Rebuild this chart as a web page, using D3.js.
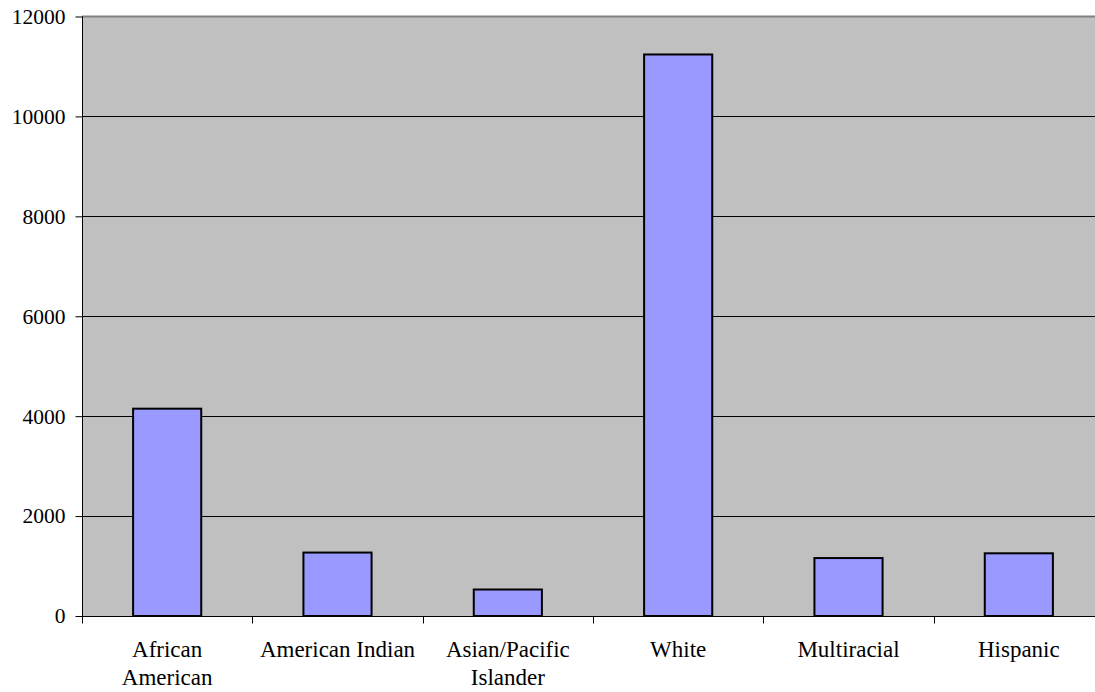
<!DOCTYPE html>
<html><head><meta charset="utf-8">
<script src="https://cdn.jsdelivr.net/npm/d3@7"></script>
<style>body{margin:0;background:#fff;}svg{display:block;}
svg text{font-family:"Liberation Serif","Times New Roman",Tinos,"DejaVu Serif",serif;fill:#000;}
.ylab text{font-size:21.5px;}
.xlab text{font-size:23px;}</style>
</head><body>
<script>
const categories = [["African","American"],["American Indian"],["Asian/Pacific","Islander"],["White"],["Multiracial"],["Hispanic"]];
const values = [4150, 1270, 530, 11240, 1160, 1255];
const yTicks = [0, 2000, 4000, 6000, 8000, 10000, 12000];

(function () {
const W = 1095, H = 692;
const pLeft = 82, pRight = 1104, pTop = 16.5, pBottom = 616;
const svg = d3.select("body").append("svg").attr("width", W).attr("height", H);

const x = d3.scaleBand().domain(d3.range(categories.length)).range([pLeft, pRight]).paddingInner(0).paddingOuter(0);
const y = d3.scaleLinear().domain([0, 12000]).range([pBottom, pTop]);

svg.append("rect").attr("x", pLeft).attr("y", pTop).attr("width", pRight - pLeft).attr("height", pBottom - pTop).attr("fill", "#c0c0c0");

// gridlines
svg.append("g").selectAll("line").data(yTicks.filter(d => d > 0 && d < 12000)).join("line")
  .attr("x1", pLeft).attr("x2", pRight)
  .attr("y1", d => Math.round(y(d)) + 0.5).attr("y2", d => Math.round(y(d)) + 0.5)
  .attr("stroke", "#000").attr("stroke-width", 1);
svg.append("line").attr("x1", pLeft).attr("x2", pRight).attr("y1", pTop).attr("y2", pTop)
  .attr("stroke", "#808080").attr("stroke-width", 2);

// bars
const bw = x.bandwidth() * 0.4;
svg.append("g").selectAll("rect").data(values).join("rect")
  .attr("x", (d, i) => x(i) + (x.bandwidth() - bw) / 2)
  .attr("y", d => y(d))
  .attr("width", bw)
  .attr("height", d => pBottom - y(d))
  .attr("fill", "#9999ff").attr("stroke", "#000").attr("stroke-width", 2);

// y axis
const yAxis = d3.axisLeft(y).tickValues(yTicks).tickSize(7).tickPadding(10).tickFormat(d3.format("d"));
const gy = svg.append("g").attr("class", "ylab").attr("transform", `translate(${pLeft + 0.5},0)`).call(yAxis);
gy.attr("font-family", null).attr("font-size", null);
gy.select(".domain").attr("stroke", "#000").attr("d", `M0,${pTop}V${pBottom}`);
gy.selectAll(".tick line").attr("stroke", "#000");

// x axis
const gx = svg.append("g").attr("class", "xlab").attr("transform", `translate(0,${pBottom + 0.5})`);
gx.append("line").attr("x1", pLeft).attr("x2", pRight).attr("stroke", "#000");
const bounds = d3.range(categories.length + 1).map(i => pLeft + i * x.bandwidth());
gx.selectAll("line.tk").data(bounds).join("line").attr("class", "tk")
  .attr("x1", d => Math.round(d) + 0.5).attr("x2", d => Math.round(d) + 0.5)
  .attr("y1", 0).attr("y2", 7).attr("stroke", "#000");
const lbl = gx.selectAll("text").data(categories).join("text")
  .attr("text-anchor", "middle");
lbl.each(function (d, i) {
  const cx = x(i) + x.bandwidth() / 2;
  d3.select(this).selectAll("tspan").data(d).join("tspan")
    .attr("x", cx)
    .attr("y", (t, j) => 40.5 + j * 28)
    .text(t => t);
});
})();
</script>
</body></html>
